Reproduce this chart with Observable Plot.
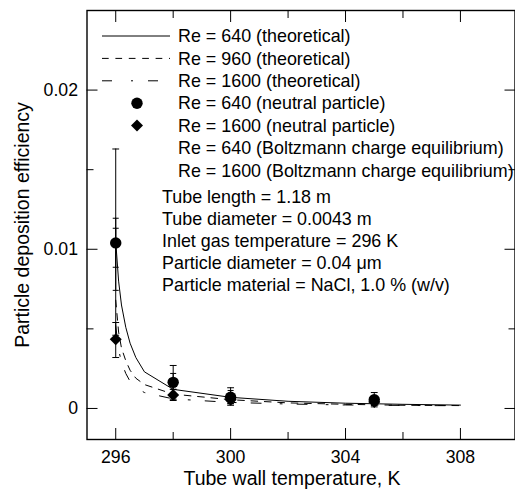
<!DOCTYPE html>
<html><head><meta charset="utf-8">
<script src="https://cdn.jsdelivr.net/npm/d3@7"></script>
<script src="https://cdn.jsdelivr.net/npm/@observablehq/plot@0.6"></script>
<style>
html,body{margin:0;padding:0;background:#fff;}
#chart{width:515px;height:490px;}
</style></head><body><div id="chart"></div>
<script>
// ---- data ----
const temps = [296, 298, 300, 305];
const neutral640 = [0.0104, 0.00164, 0.0007, 0.00055];
const neutral640Lo = [0.0046, 0.00058, 0.0002, 0.0001];
const neutral640Hi = [0.0163, 0.0027, 0.0013, 0.001];
const neutral1600 = [0.00434, 0.00085, 0.00055, 0.0004];
const neutral1600Lo = [0.0032, 0.0005, 0.0003, 0.0002];
const neutral1600Hi = [0.0054, 0.0012, 0.0008, 0.0006];
const boltz640Lo = [0.00887, 0.0009, 0.0004, 0.0003];
const boltz640Hi = [0.01195, 0.0022, 0.00113, 0.0007];
const boltz1600Lo = [0.00742, 0.0005, 0.0003, 0.0002];
const boltz1600Hi = [0.01132, 0.0012, 0.0009, 0.0006];

const theoryT = [296, 296.1, 296.2, 296.35, 296.5, 296.7, 297, 298, 300, 302, 304, 306, 308];
const theory640 = [0.0105, 0.0080, 0.0065, 0.0051, 0.0041, 0.0032, 0.0023, 0.0012, 0.0007, 0.00045, 0.00033, 0.00026, 0.00021];
const theory960 = [0.0068, 0.0048, 0.0038, 0.0030, 0.0024, 0.0019, 0.0015, 0.0009, 0.00055, 0.00035, 0.00026, 0.0002, 0.00018];
const theory1600 = [0.0052, 0.0037, 0.0029, 0.0022, 0.0017, 0.0013, 0.0010, 0.0006, 0.00038, 0.00028, 0.00022, 0.00019, 0.00017];

const xMajor = [296, 300, 304, 308];
const xMinor = [298, 302, 306];
const yMajor = [0, 0.01, 0.02];
const yMinor = [0.005, 0.015];
const yLabels = ["0", "0.01", "0.02"];

const legendLabels = [
  "Re = 640 (theoretical)",
  "Re = 960 (theoretical)",
  "Re = 1600 (theoretical)",
  "Re = 640 (neutral particle)",
  "Re = 1600 (neutral particle)",
  "Re = 640 (Boltzmann charge equilibrium)",
  "Re = 1600 (Boltzmann charge equilibrium)"
];
const infoLines = [
  "Tube length = 1.18 m",
  "Tube diameter = 0.0043 m",
  "Inlet gas temperature = 296 K",
  "Particle diameter = 0.04 \u03bcm",
  "Particle material = NaCl, 1.0 % (w/v)"
];
const xLabel = "Tube wall temperature, K";
const yLabel = "Particle deposition efficiency";

// ---- styles ----
const font = "'Liberation Sans', Arial, Helvetica, sans-serif";
const dash960 = "6.7,6.7";
const dash1600 = "10,19,2,15";
const legendKinds = [
  {line: ""}, {line: dash960}, {line: dash1600},
  {symbol: "circle"}, {symbol: "diamond2"}, {}, {}
];

// ---- build tables ----
const theory = theoryT.map((t, i) => ({t, a: theory640[i], b: theory960[i], c: theory1600[i]}));
const n640 = temps.map((t, i) => ({t, y: neutral640[i]}));
const n1600 = temps.map((t, i) => ({t, y: neutral1600[i]}));
const bars = [];
temps.forEach((t, i) => {
  bars.push({t, lo: neutral640Lo[i], hi: neutral640Hi[i], w: 6.5});
  bars.push({t, lo: neutral1600Lo[i], hi: neutral1600Hi[i], w: 6.5});
  bars.push({t, lo: boltz640Lo[i], hi: boltz640Hi[i], w: 5});
  bars.push({t, lo: boltz1600Lo[i], hi: boltz1600Hi[i], w: 5});
});
const caps = bars.flatMap(b => [{t: b.t, y: b.lo, w: b.w}, {t: b.t, y: b.hi, w: b.w}]);
const capSymbol = {draw(ctx, size) { const r = Math.sqrt(size / Math.PI); ctx.moveTo(-r, 0); ctx.lineTo(r, 0); }};

function legendMark(index, scales, values, dims) {
  const g = d3.create("svg:g").attr("font-family", font).attr("font-size", 17.9)
    .attr("fill", "black").attr("text-anchor", "start");
  legendLabels.forEach((label, i) => {
    const y = 36 + i * 22.4;
    const k = legendKinds[i];
    if (k.line !== undefined) {
      g.append("line").attr("x1", 102).attr("x2", 170).attr("y1", y).attr("y2", y)
        .attr("stroke", "black").attr("stroke-width", 1).attr("stroke-dasharray", k.line || null);
    }
    if (k.symbol) {
      const sym = k.symbol === "circle" ? d3.symbolCircle : d3.symbolDiamond2;
      const r = k.symbol === "circle" ? 5.7 : 5.4;
      g.append("path").attr("transform", `translate(137,${y})`)
        .attr("d", d3.symbol(sym, Math.PI * r * r)()).attr("fill", "black");
    }
    g.append("text").attr("x", 178).attr("y", y).attr("dy", "0.35em").text(label);
  });
  infoLines.forEach((line, j) => {
    g.append("text").attr("x", 162).attr("y", 197 + j * 22).attr("dy", "0.35em").text(line);
  });
  return g.node();
}

const chart = Plot.plot({
  width: 515,
  height: 490,
  marginLeft: 86.5,
  marginRight: 0.5,
  marginTop: 10,
  marginBottom: 51,
  style: {fontFamily: font, background: "white", color: "black"},
  x: {domain: [295, 309.9], axis: null},
  y: {domain: [-0.00195, 0.025], axis: null},
  marks: [
    // ticks (inward)
    Plot.axisX(xMajor, {anchor: "bottom", tickSize: -11, text: null, label: null}),
    Plot.axisX(xMinor, {anchor: "bottom", tickSize: -7, text: null, label: null}),
    Plot.axisX(xMajor, {anchor: "top", tickSize: -11, text: null, label: null}),
    Plot.axisX(xMinor, {anchor: "top", tickSize: -7, text: null, label: null}),
    Plot.axisY(yMajor, {anchor: "left", tickSize: -11, text: null, label: null}),
    Plot.axisY(yMinor, {anchor: "left", tickSize: -7, text: null, label: null}),
    Plot.axisY(yMajor, {anchor: "right", tickSize: -11, text: null, label: null}),
    Plot.axisY(yMinor, {anchor: "right", tickSize: -7, text: null, label: null}),
    // tick labels
    Plot.axisX(xMajor, {anchor: "bottom", tickSize: 0, tickPadding: 11, fontSize: 17.7, label: null}),
    Plot.axisY(yMajor, {anchor: "left", tickSize: 0, tickPadding: 9, fontSize: 17.7, label: null,
      tickFormat: (d) => yLabels[yMajor.indexOf(d)]}),
    // axis titles
    Plot.text([xLabel], {frameAnchor: "bottom", text: d => d, dy: 39, dx: -9, fontSize: 19.5,
      textAnchor: "middle", lineAnchor: "middle"}),
    Plot.text([yLabel], {frameAnchor: "left", text: d => d, rotate: -90, dx: -64.5, fontSize: 19.5,
      textAnchor: "middle", lineAnchor: "middle"}),
    // theoretical curves
    Plot.line(theory, {x: "t", y: "a", stroke: "black", strokeWidth: 1}),
    Plot.line(theory, {x: "t", y: "b", stroke: "black", strokeWidth: 1, strokeDasharray: dash960}),
    Plot.line(theory, {x: "t", y: "c", stroke: "black", strokeWidth: 1, strokeDasharray: dash1600}),
    // error bars
    Plot.ruleX(bars, {x: "t", y1: "lo", y2: "hi", stroke: "black", strokeWidth: 1}),
    Plot.dot(caps, {x: "t", y: "y", r: "w", symbol: capSymbol, fill: "none", stroke: "black", strokeWidth: 1}),
    // data markers
    Plot.dot(n640, {x: "t", y: "y", r: 5.7, symbol: "circle", fill: "black", stroke: "none"}),
    Plot.dot(n1600, {x: "t", y: "y", r: 5.4, symbol: "diamond2", fill: "black", stroke: "none"}),
    legendMark,
    Plot.frame({stroke: "black", strokeWidth: 1.4})
  ]
});
document.getElementById("chart").append(chart);
</script></body></html>
